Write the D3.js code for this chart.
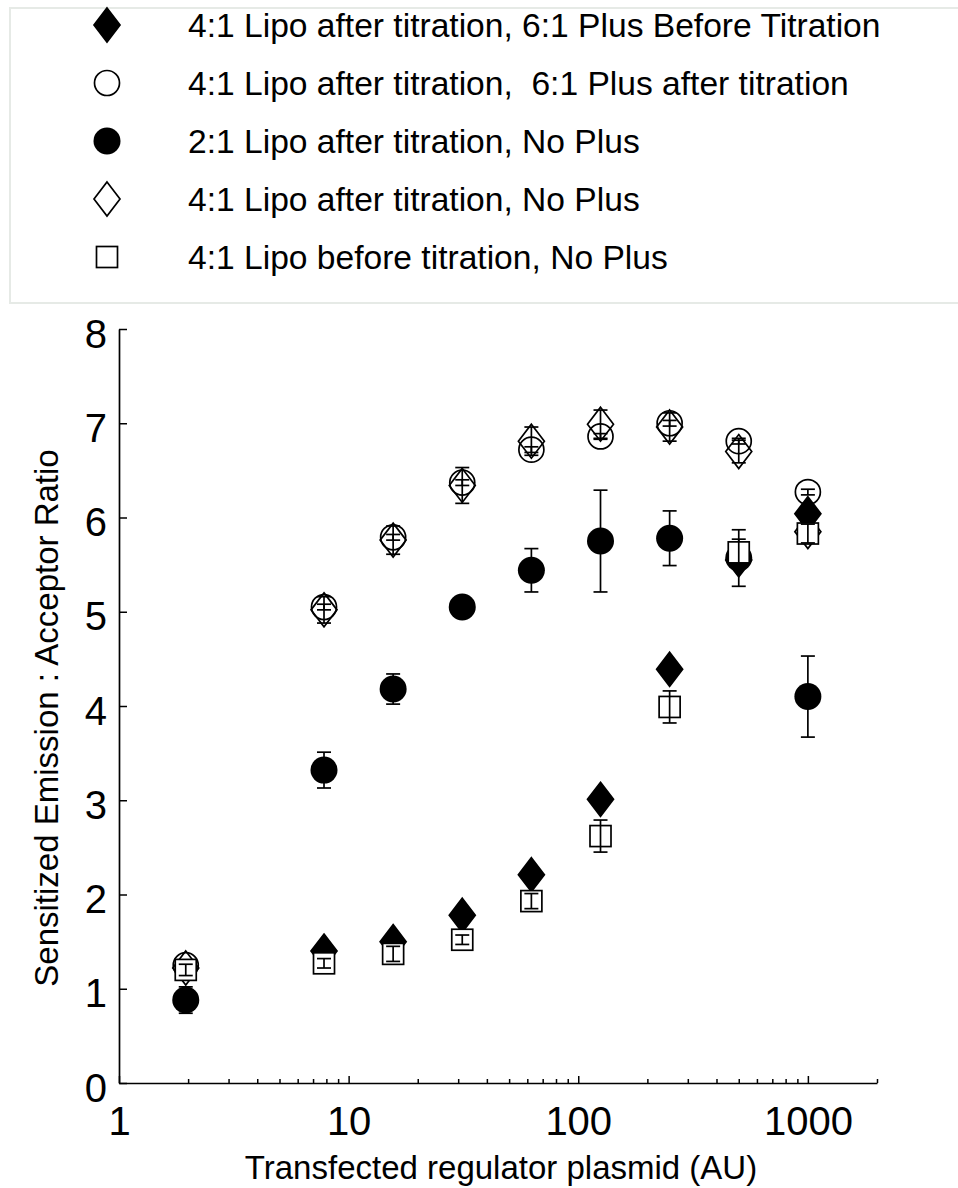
<!DOCTYPE html>
<html>
<head>
<meta charset="utf-8">
<script src="https://cdn.jsdelivr.net/npm/d3@7"></script>
<style>
  body { margin: 0; background: #fff; }
  svg { display: block; font-family: "Liberation Sans", Arial, sans-serif; }
</style>
</head>
<body>
<div id="chart"></div>
<script>
// plasmid amounts (2-fold dilutions from 1000)
var plasmid = [1.953, 7.8125, 15.625, 31.25, 62.5, 125, 250, 500, 1000];

var plusBefore      = [null, 1.40, 1.50, 1.78, 2.21, 3.01, 4.39, 5.55, 6.04];
var plusBeforeErr   = [0, 0, 0, 0, 0, 0, 0, 0, 0];
var plusAfter       = [1.25, 5.05, 5.79, 6.37, 6.72, 6.86, 7.00, 6.81, 6.27];
var plusAfterErr    = [0.03, 0.03, 0.03, 0.03, 0.03, 0.03, 0.03, 0.03, 0.03];
var lipo21          = [0.88, 3.32, 4.18, 5.05, 5.44, 5.75, 5.78, 5.57, 4.10];
var lipo21Err       = [0.14, 0.19, 0.16, 0.05, 0.23, 0.54, 0.29, 0.30, 0.43];
var lipo41After     = [1.22, 5.02, 5.76, 6.34, 6.81, 6.99, 6.96, 6.70, 5.85];
var lipo41AfterErr  = [0.08, 0.14, 0.15, 0.19, 0.15, 0.15, 0.15, 0.12, 0.08];
var lipo41Before    = [1.20, 1.27, 1.37, 1.52, 1.93, 2.62, 3.99, 5.63, 5.83];
var lipo41BeforeErr = [0.06, 0.05, 0.08, 0.05, 0.08, 0.17, 0.17, 0.14, 0.10];

var seriesNames = [
  "4:1 Lipo after titration, 6:1 Plus Before Titration",
  "4:1 Lipo after titration,  6:1 Plus after titration",
  "2:1 Lipo after titration, No Plus",
  "4:1 Lipo after titration, No Plus",
  "4:1 Lipo before titration, No Plus"
];
var seriesShapes = ["diamondFill", "circleOpen", "circleFill", "diamondOpen", "square"];
var seriesValues = [plusBefore, plusAfter, lipo21, lipo41After, lipo41Before];
var seriesErrors = [plusBeforeErr, plusAfterErr, lipo21Err, lipo41AfterErr, lipo41BeforeErr];

var xTickLabels = [1, 10, 100, 1000];
var yTicks = [0, 1, 2, 3, 4, 5, 6, 7, 8];

var W = 958, H = 1188;
var svg = d3.select("#chart").append("svg")
    .attr("width", W).attr("height", H)
    .attr("viewBox", "0 0 " + W + " " + H);

var x = d3.scaleLog().domain([1, 2000]).range([119, 877]);
var y = d3.scaleLinear().domain([0, 8]).range([1083, 329]);

// marker drawing
function drawMarker(g, shape) {
  if (shape === "diamondFill" || shape === "diamondOpen") {
    g.append("path")
      .attr("d", "M0,-17 L13,0 L0,17 L-13,0 Z")
      .attr("fill", shape === "diamondFill" ? "#000" : "none")
      .attr("stroke", "#000").attr("stroke-width", 1.7);
  } else if (shape === "circleFill" || shape === "circleOpen") {
    g.append("circle").attr("r", shape === "circleFill" ? 13.5 : 12.5)
      .attr("fill", shape === "circleFill" ? "#000" : "none")
      .attr("stroke", "#000").attr("stroke-width", shape === "circleFill" ? 0 : 1.7);
  } else {
    g.append("rect").attr("x", -10.5).attr("y", -10.5)
      .attr("width", 21).attr("height", 21)
      .attr("fill", "#fff").attr("stroke", "#000").attr("stroke-width", 1.7);
  }
}

// legend
svg.append("rect")
    .attr("x", 10).attr("y", 8).attr("width", 970).attr("height", 295)
    .attr("fill", "#fff").attr("stroke", "#e6eae6").attr("stroke-width", 2);

seriesNames.forEach(function(name, i) {
  var cy = 25 + i * 58;
  var g = svg.append("g").attr("transform", "translate(107," + cy + ")");
  drawMarker(g, seriesShapes[i]);
  svg.append("text")
    .attr("x", 188).attr("y", cy + 12)
    .attr("font-size", 33.6)
    .attr("fill", "#000")
    .attr("xml:space", "preserve")
    .style("white-space", "pre")
    .text(name);
});

// axes
var minorTicks = [];
[1, 10, 100, 1000].forEach(function(d) {
  for (var k = 1; k <= 9; k++) { if (d * k <= 2000) minorTicks.push(d * k); }
});

var xAxis = svg.append("g")
    .attr("transform", "translate(0,1083)")
    .call(d3.axisBottom(x)
      .tickValues(minorTicks)
      .tickSizeInner(-4)
      .tickSizeOuter(0)
      .tickPadding(24)
      .tickFormat(function(d) { return xTickLabels.indexOf(d) >= 0 ? d : ""; }));

xAxis.select(".domain").attr("stroke-width", 1.7);
xAxis.selectAll(".tick line")
    .attr("stroke-width", 1.5)
    .attr("y2", function(d) { return xTickLabels.indexOf(d) >= 0 ? -7 : -4; });
xAxis.selectAll(".tick text")
    .attr("font-size", 40).attr("font-family", "Liberation Sans, Arial, sans-serif")
    .attr("fill", "#000");

var yAxis = svg.append("g")
    .attr("transform", "translate(119,0)")
    .call(d3.axisLeft(y)
      .tickValues(yTicks)
      .tickSizeInner(-8)
      .tickSizeOuter(0)
      .tickPadding(12)
      .tickFormat(d3.format("d")));

yAxis.select(".domain").attr("stroke-width", 1.7);
yAxis.selectAll(".tick line").attr("stroke-width", 1.5);
yAxis.selectAll(".tick text")
    .attr("font-size", 40).attr("font-family", "Liberation Sans, Arial, sans-serif")
    .attr("fill", "#000").attr("dy", "0.45em");

// axis titles
svg.append("text")
    .attr("x", 501).attr("y", 1179)
    .attr("text-anchor", "middle")
    .attr("font-size", 33)
    .text("Transfected regulator plasmid (AU)");

svg.append("text")
    .attr("transform", "translate(58,718) rotate(-90)")
    .attr("text-anchor", "middle")
    .attr("font-size", 33)
    .text("Sensitized Emission : Acceptor Ratio");

// points with error bars
seriesValues.forEach(function(vals, i) {
  var pts = plasmid.map(function(p, j) {
    return { x: p, y: vals[j], e: seriesErrors[i][j] };
  }).filter(function(d) { return d.y !== null; });

  var g = svg.append("g");
  var pg = g.selectAll("g.pt").data(pts).enter().append("g")
    .attr("transform", function(d) { return "translate(" + x(d.x) + "," + y(d.y) + ")"; });
  pg.each(function() { drawMarker(d3.select(this), seriesShapes[i]); });

  var eb = g.selectAll("g.eb").data(pts.filter(function(d) { return d.e > 0; }))
    .enter().append("g")
    .attr("stroke", "#000").attr("stroke-width", 1.7);
  eb.append("line")
    .attr("x1", function(d) { return x(d.x); }).attr("x2", function(d) { return x(d.x); })
    .attr("y1", function(d) { return y(d.y + d.e); }).attr("y2", function(d) { return y(d.y - d.e); });
  eb.append("line")
    .attr("x1", function(d) { return x(d.x) - 7; }).attr("x2", function(d) { return x(d.x) + 7; })
    .attr("y1", function(d) { return y(d.y + d.e); }).attr("y2", function(d) { return y(d.y + d.e); });
  eb.append("line")
    .attr("x1", function(d) { return x(d.x) - 7; }).attr("x2", function(d) { return x(d.x) + 7; })
    .attr("y1", function(d) { return y(d.y - d.e); }).attr("y2", function(d) { return y(d.y - d.e); });
});
</script>
</body>
</html>
